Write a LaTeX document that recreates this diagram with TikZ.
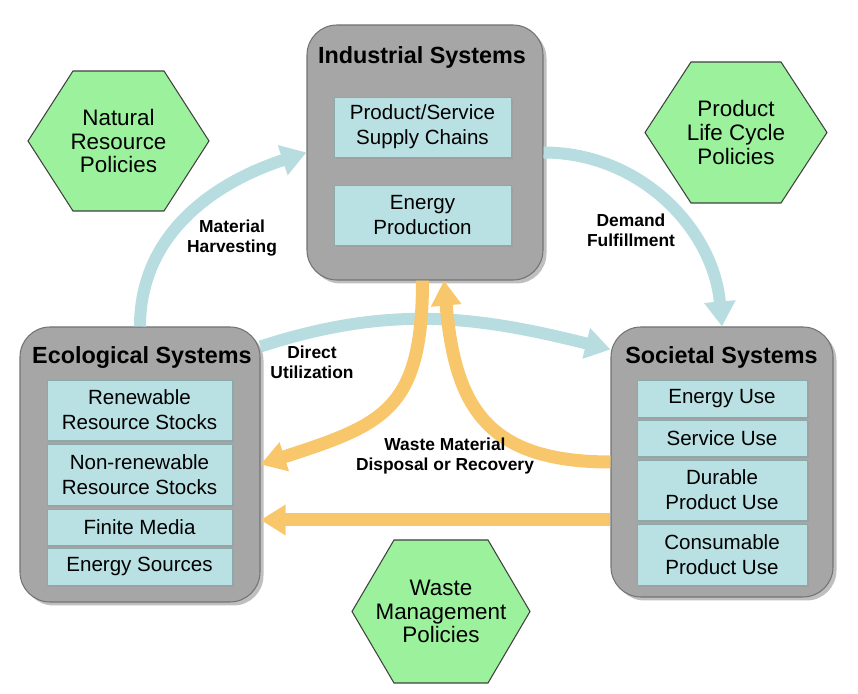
\documentclass[tikz,border=0pt]{standalone}
\usepackage{fontspec}
\setmainfont{Liberation Sans}
\usetikzlibrary{positioning,calc,arrows.meta,shadows}

\definecolor{sysgray}{HTML}{A6A6A6}
\definecolor{subcyan}{HTML}{B9E0E3}
\definecolor{flowblue}{HTML}{B7DDE1}
\definecolor{wasteorange}{HTML}{F9C76B}
\definecolor{policygreen}{HTML}{9CF29C}

\tikzset{
  system/.style={draw=black!55, fill=sysgray, rounded corners=0.6cm, line width=0.6pt,
    drop shadow={shadow xshift=0.07cm, shadow yshift=-0.07cm, fill=black!50}},
  systitle/.style={font=\fontsize{13.3}{15}\selectfont\bfseries},
  subsys/.style={fill=subcyan, draw=subcyan!75!black, line width=0.4pt, align=center,
    inner sep=0pt, font=\fontsize{11.7}{14.2}\selectfont,
    drop shadow={shadow xshift=0.04cm, shadow yshift=-0.04cm, fill=black!40}},
  policy/.style={fill=policygreen, draw=black!75, line width=0.6pt},
  policytext/.style={align=center, font=\fontsize{12.75}{13.6}\selectfont},
  flow/.style={line width=0.24cm, draw=flowblue, -{Triangle[width=0.6cm,length=0.5cm]}},
  waste/.style={line width=0.26cm, draw=wasteorange, -{Triangle[width=0.58cm,length=0.5cm]}},
  flowlabel/.style={align=center, font=\fontsize{9.9}{11.3}\selectfont\bfseries},
}

\begin{document}
\begin{tikzpicture}
    \useasboundingbox (0,0) rectangle (17.16,13.88);

    % Policy hexagons
    \foreach \nm/\cx/\cy/\hw/\hf/\hh/\txt in {
        natural/2.37/11.06/1.81/0.91/1.40/{Natural\\Resource\\Policies},
        lifecycle/14.72/11.23/1.82/0.90/1.41/{Product\\Life Cycle\\Policies},
        wastemgmt/8.82/1.65/1.78/0.94/1.43/{Waste\\Management\\Policies}} {
        \draw[policy] (\cx,\cy) +(-\hw,0) -- +(-\hf,\hh) -- +(\hf,\hh) -- +(\hw,0)
            -- +(\hf,-\hh) -- +(-\hf,-\hh) -- cycle;
        \node[policytext] (\nm) at (\cx,\cy) {\txt};
    }

    % Industrial systems
    \node[system, minimum width=4.72cm, minimum height=5.10cm] (ind) at (8.50,10.83) {};
    \node[systitle] (indtitle) at (8.44,12.74) {Industrial Systems};
    \node[subsys, minimum width=3.54cm, minimum height=1.20cm] (chains) at (8.45,11.34) {Product/Service\\Supply Chains};
    \node[subsys, minimum width=3.54cm, minimum height=1.20cm] (energyprod) at (8.45,9.58) {Energy\\Production};

    % Ecological systems
    \node[system, minimum width=4.80cm, minimum height=5.50cm] (eco) at (2.80,4.59) {};
    \node[systitle] (ecotitle) at (2.84,6.72) {Ecological Systems};
    \node[subsys, minimum width=3.70cm, minimum height=1.20cm] (renew) at (2.79,5.68) {Renewable\\Resource Stocks};
    \node[subsys, minimum width=3.70cm, minimum height=1.22cm] (nonrenew) at (2.79,4.39) {Non-renewable\\Resource Stocks};
    \node[subsys, minimum width=3.70cm, minimum height=0.72cm] (finite) at (2.79,3.34) {Finite Media};
    \node[subsys, minimum width=3.70cm, minimum height=0.74cm] (esources) at (2.79,2.55) {Energy Sources};

    % Societal systems
    \node[system, minimum width=4.44cm, minimum height=5.40cm] (soc) at (14.44,4.64) {};
    \node[systitle] (soctitle) at (14.43,6.74) {Societal Systems};
    \node[subsys, minimum width=3.40cm, minimum height=0.74cm] (energyuse) at (14.44,5.91) {Energy Use};
    \node[subsys, minimum width=3.40cm, minimum height=0.72cm] (serviceuse) at (14.44,5.12) {Service Use};
    \node[subsys, minimum width=3.40cm, minimum height=1.20cm] (durable) at (14.44,4.08) {Durable\\Product Use};
    \node[subsys, minimum width=3.40cm, minimum height=1.22cm] (consumable) at (14.44,2.79) {Consumable\\Product Use};

    % Material flows
    \draw[flow] (eco.north) to[out=90,in=198] (ind.west);
    \draw[flow] (ind.east) to[out=0,in=95] (soc.north);
    \draw[flow] ([yshift=-0.4cm]eco.north east) to[out=18,in=166] ([yshift=-0.46cm]soc.north west);

    % Waste flows
    \draw[waste] ([xshift=-0.05cm]ind.south) to[out=-90,in=18,looseness=1.35] (eco.east);
    \draw[waste] (soc.west) to[out=180,in=-85,looseness=1.3] ([xshift=0.38cm]ind.south);
    \draw[waste] ([yshift=-1.16cm]soc.west) -- ([yshift=-1.16cm]soc.west -| eco.east);

    \node[flowlabel] (harvest) at (4.64,9.12) {Material\\Harvesting};
    \node[flowlabel] (demand) at (12.62,9.28) {Demand\\Fulfillment};
    \node[flowlabel] (direct) at (6.24,6.64) {Direct\\Utilization};
    \node[flowlabel] (wastelbl) at (8.90,4.76) {Waste Material\\Disposal or Recovery};
\end{tikzpicture}
\end{document}
